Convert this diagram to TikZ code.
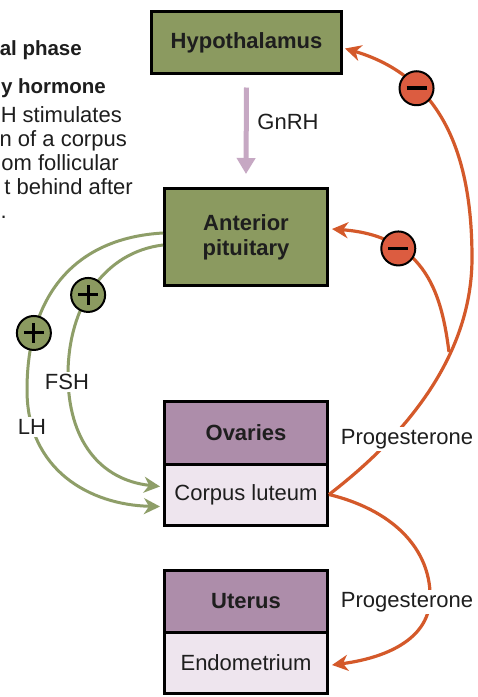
\documentclass[tikz,border=0pt]{standalone}
\usepackage{fontspec}
\setmainfont{Liberation Sans}
\usetikzlibrary{arrows.meta}
\definecolor{boxgreen}{HTML}{8B9A60}
\definecolor{headpurple}{HTML}{AD8DAA}
\definecolor{lightlilac}{HTML}{EEE5EE}
\definecolor{gnrhcol}{HTML}{C6A8C3}
\definecolor{orangeline}{HTML}{D4592A}
\definecolor{minusfill}{HTML}{DC5C40}
\definecolor{greenline}{HTML}{8E9E68}
\definecolor{txt}{HTML}{1E1E1E}
\begin{document}
\begin{tikzpicture}[x=1pt,y=-1pt,
  every node/.style={font=\fontsize{22}{25}\selectfont, text=txt},
  organ/.style={draw=black, line width=3pt, inner sep=0pt, minimum width=163pt, align=center},
  greenbox/.style={organ, fill=boxgreen, font=\fontsize{22}{25}\selectfont\bfseries},
  headbox/.style={organ, fill=headpurple, minimum height=63pt, font=\fontsize{22}{25}\selectfont\bfseries},
  tissuebox/.style={organ, fill=lightlilac, minimum height=61pt},
  lbl/.style={fill=white, inner sep=2pt},
  sidetext/.style={anchor=base east, inner sep=0pt},
  sidebold/.style={sidetext, font=\fontsize{20.5}{25}\selectfont\bfseries},
  orangearrow/.style={draw=orangeline, line width=3.2pt, -{Stealth[length=16pt,width=16pt,inset=5pt]}},
  greenarrow/.style={draw=greenline, line width=3pt, -{Stealth[length=16pt,width=16pt,inset=5pt]}},
  gnrharrow/.style={draw=gnrhcol, line width=5pt, -{Triangle[length=16pt,width=18pt]}},
  signcircle/.style={circle, draw=black, line width=2pt, minimum size=34pt, inner sep=0pt},
  minusnode/.style={signcircle, fill=minusfill,
    path picture={\draw[arrows=-, line width=3.5pt, black] ([xshift=-10pt]path picture bounding box.center) -- ([xshift=10pt]path picture bounding box.center);}},
  plusnode/.style={signcircle, fill=boxgreen,
    path picture={\draw[arrows=-, line width=3pt, black] ([xshift=-10pt]path picture bounding box.center) -- ([xshift=10pt]path picture bounding box.center);
                  \draw[arrows=-, line width=3pt, black] ([yshift=-10pt]path picture bounding box.center) -- ([yshift=10pt]path picture bounding box.center);}}
]
\useasboundingbox[fill=white] (0,0) rectangle (478,697);

% side text (cut off at the left edge, as in the reference)
\node[sidebold] (t1) at (82,55) {al phase};
\node[sidebold] (t2) at (106,93) {y hormone};
\node[sidetext] (t3) at (122,122) {H stimulates};
\node[sidetext] (t4) at (127,146) {n of a corpus};
\node[sidetext] (t5) at (119,170) {om follicular};
\node[sidetext] (t6) at (133,194) {t behind after};
\node[sidetext] (t7) at (7,218) {.};

% boxes
\node[greenbox, minimum width=190pt, minimum height=62pt] (hyp) at (246.5,42.5) {Hypothalamus};
\node[greenbox, minimum height=97pt] (ant) at (246,237) {Anterior\\pituitary};
\node[headbox] (ov) at (246,432.5) {Ovaries};
\node[tissuebox] (cl) at (246,494.5) {Corpus luteum};
\node[headbox, minimum height=62pt] (ut) at (246,601.5) {Uterus};
\node[tissuebox] (en) at (246,663) {Endometrium};

% GnRH
\draw[gnrharrow] ([yshift=-12.5pt]hyp.south) -- ([yshift=13pt]ant.north);
\node (gnrh) at (288,122) {GnRH};

% orange progesterone feedback
\coordinate (bend) at (472,258);
\coordinate (split) at (449,352);
\draw[orangearrow] (cl.east) .. controls (400,440) and (472,360) .. (bend)
   .. controls (472,160) and (445,78) .. ([yshift=-6pt,xshift=2pt]hyp.east)
   node[minusnode, pos=0.7] (m1) {};
\draw[orangearrow] (split) .. controls (442,298) and (428,236) .. ([yshift=8pt,xshift=3pt]ant.east)
   node[minusnode, pos=0.7] (m2) {};
\node[lbl] (prog1) at (407,439) {Progesterone};

\coordinate (lowbend) at (430,600);
\draw[orangearrow] (cl.east) .. controls (400,512) and (432,555) .. (lowbend)
   .. controls (428,640) and (385,658) .. ([yshift=-2pt,xshift=3pt]en.east);
\node[lbl] (prog2) at (407,602) {Progesterone};

% green LH / FSH
\coordinate (lhbend) at (27,390);
\coordinate (fshbend) at (68,375);
\draw[greenarrow] ([yshift=4pt]ant.west) .. controls (75,238) and (27,295) .. (lhbend)
   node[plusnode, pos=0.78] (p1) {}
   .. controls (27,470) and (90,505) .. ([yshift=-12pt,xshift=-3pt]cl.west);
\draw[greenarrow] ([yshift=-8pt]ant.west) .. controls (105,252) and (68,305) .. (fshbend)
   node[plusnode, pos=0.56] (p2) {}
   .. controls (68,440) and (100,480) .. ([yshift=8pt,xshift=-3pt]cl.west);
\node[lbl] (lh) at (32,427) {LH};
\node[lbl] (fsh) at (67,382) {FSH};
\end{tikzpicture}
\end{document}
